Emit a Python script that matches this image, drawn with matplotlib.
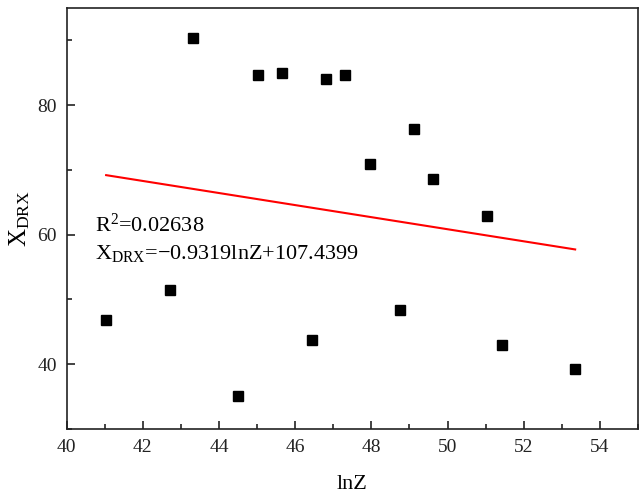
import numpy as np
import matplotlib
matplotlib.use('Agg')
import matplotlib.pyplot as plt
from matplotlib.ticker import MultipleLocator

# data
lnz = [41.04, 42.72, 43.33, 44.50, 45.02, 45.66, 46.44, 46.80,
       47.32, 47.97, 48.74, 49.11, 49.63, 51.04, 51.42, 53.35]
x_drx = [46.8, 51.4, 90.3, 35.1, 84.7, 84.9, 43.8, 84.0,
         84.7, 70.9, 48.3, 76.3, 68.6, 62.9, 42.9, 39.2]

slope = -0.9319
intercept = 107.4399
r2 = 0.02638

plt.rcParams['font.family'] = ['Liberation Serif', 'DejaVu Serif']
plt.rcParams['mathtext.fontset'] = 'custom'
plt.rcParams['mathtext.rm'] = 'Liberation Serif'
plt.rcParams['mathtext.it'] = 'Liberation Serif:italic'

fig = plt.figure(figsize=(6.42, 4.97), dpi=100)
ax = fig.add_axes([0.1036, 0.1368, 0.8902, 0.8471])

ax.plot(lnz, x_drx, 's', color='black', ms=6.8, ls='none')

fit_x = np.array([min(lnz), max(lnz)])
ax.plot(fit_x, slope * fit_x + intercept, color='red', lw=1.5)

ax.set_xlim(40, 55)
ax.set_ylim(30, 95)
ax.xaxis.set_major_locator(MultipleLocator(2))
ax.xaxis.set_minor_locator(MultipleLocator(1))
ax.yaxis.set_major_locator(MultipleLocator(20))
ax.yaxis.set_minor_locator(MultipleLocator(10))
ax.tick_params(which='both', direction='in', top=False, right=False,
               labelsize=14, width=1.2, colors='#222222')
ax.tick_params(which='major', length=6, pad=7)
ax.tick_params(which='minor', length=3.5)
for s in ax.spines.values():
    s.set_linewidth(1.2)
    s.set_color('#222222')

ax.set_xlabel('lnZ', fontsize=16, labelpad=14)
ax.set_ylabel(r'X$_{\rm DRX}$', fontsize=18, labelpad=4)

eq = 'X$_{\\rm DRX}$=\u2212%.4flnZ+%.4f' % (-slope, intercept)
ax.text(40.75, 61.4, r'R$^{2}$=%.5f' % r2, fontsize=16, va='center')
ax.text(40.75, 57.1, eq, fontsize=16, va='center')

fig.savefig('out.png', dpi=100)
